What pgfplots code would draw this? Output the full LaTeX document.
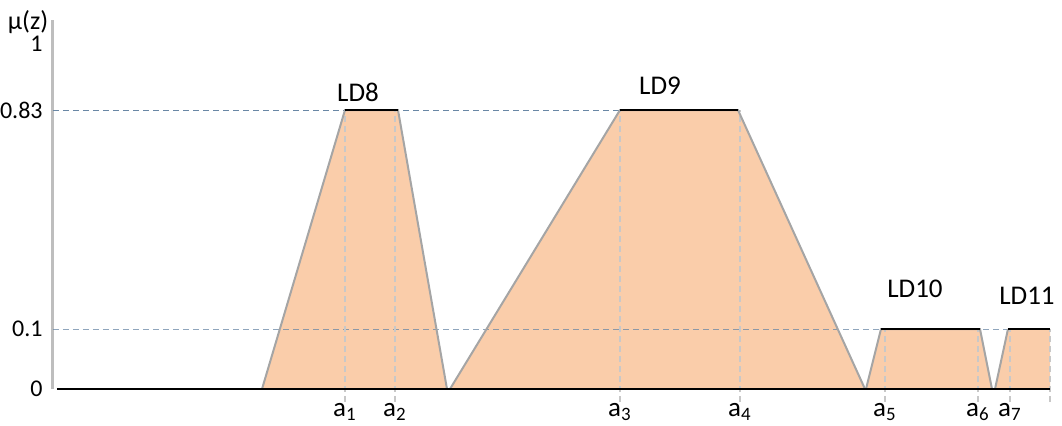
\documentclass[border=0pt]{standalone}
\usepackage{fontspec}
\setmainfont{Carlito}
\usepackage{pgfplots}
\pgfplotsset{compat=1.18}
\definecolor{peach}{RGB}{250,205,170}
\definecolor{edgegray}{RGB}{165,165,165}
\definecolor{refblue}{RGB}{105,135,165}
\definecolor{dashgray}{RGB}{200,200,200}
\definecolor{axisgray}{RGB}{190,190,190}

\begin{document}
\fontsize{12}{14}\selectfont
\begin{tikzpicture}
\path[use as bounding box] (-26.5pt,-18pt) rectangle (504.5pt,194.5pt);
\begin{axis}[
  at={(0,0)}, anchor=south west,
  x=0.5pt, y=0.5pt,
  xmin=53, xmax=1052, ymin=0, ymax=1.062,
  % piecewise-linear membership scale: 0..0.1, 0.1..0.83, 0.83..1
  y coord trafo/.code={\pgfmathparse{max(min(600*#1,30+300*#1),279+388.2*(#1-0.83))}},
  axis lines=left, axis line style={-},
  x axis line style={draw=none},
  y axis line style={draw=axisgray, line width=1.5pt},
  xtick={345,395,620,740,885,978,1010},
  xticklabels={a\textsubscript{1},a\textsubscript{2},a\textsubscript{3},a\textsubscript{4},a\textsubscript{5},a\textsubscript{6},a\textsubscript{7}},
  ytick={0,0.1,0.83,1},
  yticklabels={0,0.1,0.83,1},
  major tick length=0pt,
  tick style={draw=none},
  yticklabel style={font=\fontsize{12}{14}\selectfont, xshift=-1pt},
  xticklabel style={font=\fontsize{13.5}{16}\selectfont, yshift=-3pt},
  clip=false,
]
% filled fuzzy sets
\addplot[fill=peach, draw=none] coordinates {(262,0)(345,0.83)(398,0.83)(447,0)} \closedcycle;
\addplot[fill=peach, draw=none] coordinates {(450,0)(620,0.83)(738,0.83)(865,0)} \closedcycle;
\addplot[fill=peach, draw=none] coordinates {(866,0)(881,0.1)(980,0.1)(992,0)} \closedcycle;
\addplot[fill=peach, draw=none] coordinates {(995,0)(1008,0.1)(1050,0.1)(1050,0)} \closedcycle;

% reference levels
\addplot[refblue, line width=0.5pt, dash pattern=on 3pt off 2pt] coordinates {(53,0.83)(620,0.83)};
\addplot[refblue, line width=0.5pt, dash pattern=on 3pt off 2pt, opacity=0.75] coordinates {(53,0.1)(1050,0.1)};

% breakpoints a1..a7
\addplot[dashgray, line width=1pt, dash pattern=on 3pt off 2pt] coordinates {(345,-0.022)(345,0.83)};
\addplot[dashgray, line width=1pt, dash pattern=on 3pt off 2pt] coordinates {(395,-0.022)(395,0.83)};
\addplot[dashgray, line width=1pt, dash pattern=on 3pt off 2pt] coordinates {(620,-0.022)(620,0.83)};
\addplot[dashgray, line width=1pt, dash pattern=on 3pt off 2pt] coordinates {(740,-0.022)(740,0.83)};
\addplot[dashgray, line width=1pt, dash pattern=on 3pt off 2pt] coordinates {(885,-0.022)(885,0.1)};
\addplot[dashgray, line width=1pt, dash pattern=on 3pt off 2pt] coordinates {(978,-0.022)(978,0.1)};
\addplot[dashgray, line width=1pt, dash pattern=on 3pt off 2pt] coordinates {(1010,-0.022)(1010,0.1)};
\addplot[dashgray, line width=1pt, dash pattern=on 3pt off 2pt] coordinates {(1050,-0.022)(1050,0.1)};

% outlines
\addplot[edgegray, line width=1pt] coordinates {(262,0)(345,0.83)(398,0.83)(447,0)};
\addplot[edgegray, line width=1pt] coordinates {(450,0)(620,0.83)(738,0.83)(865,0)};
\addplot[edgegray, line width=1pt] coordinates {(866,0)(881,0.1)(980,0.1)(992,0)};
\addplot[edgegray, line width=1pt] coordinates {(995,0)(1008,0.1)};
\addplot[black, line width=0.9pt] coordinates {(345,0.83)(398,0.83)};
\addplot[black, line width=0.9pt] coordinates {(620,0.83)(738,0.83)};
\addplot[black, line width=0.9pt] coordinates {(881,0.1)(980,0.1)};
\addplot[black, line width=0.9pt] coordinates {(1008,0.1)(1050,0.1)};
\addplot[black, line width=0.8pt] coordinates {(57,0)(1050,0)};

% labels
\node[font=\fontsize{13.5}{16}\selectfont] at (axis cs:358,0.876) {LD8};
\node[font=\fontsize{13.5}{16}\selectfont] at (axis cs:660,0.892) {LD9};
\node[font=\fontsize{13.5}{16}\selectfont] at (axis cs:915,0.233) {LD10};
\node[font=\fontsize{13.5}{16}\selectfont] at (axis cs:1027,0.21) {LD11};
\node[font=\fontsize{13}{15}\selectfont] at (axis cs:28,1.0567) {μ(z)};
\end{axis}
\end{tikzpicture}
\end{document}
